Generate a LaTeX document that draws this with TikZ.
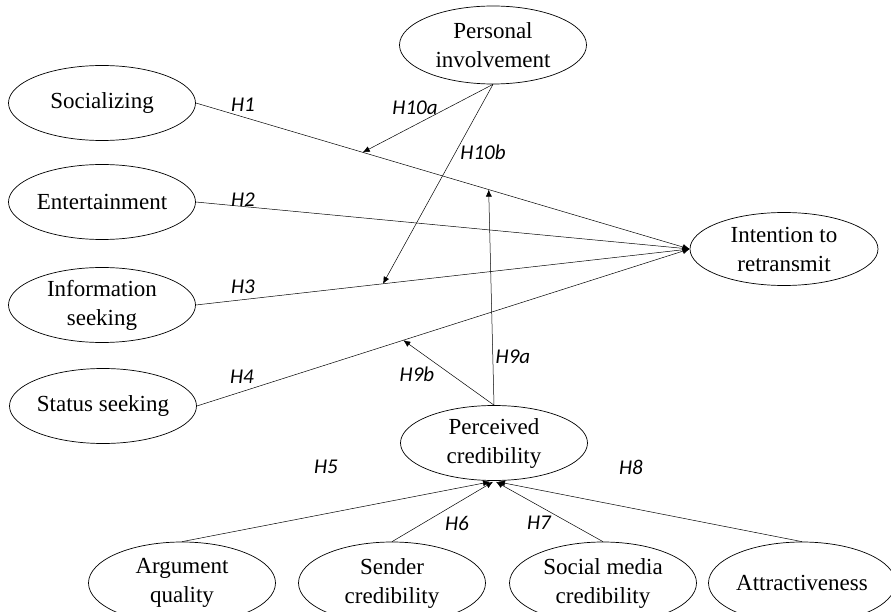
\documentclass[tikz,border=0pt]{standalone}
\usepackage{fontspec}
\setmainfont{Liberation Serif}
\newfontfamily\hypfont{Carlito}
\usetikzlibrary{shapes.geometric,calc,arrows.meta}
\begin{document}
\begin{tikzpicture}[x=1pt,y=-1pt,>={Latex[length=7pt,width=6pt]},
    var/.style={draw,ellipse,line width=0.7pt,minimum width=187pt,minimum height=75pt,inner sep=0pt,align=center,font=\fontsize{23}{29}\selectfont},
    hyp/.style={font=\hypfont\itshape\fontsize{21}{24}\selectfont},
    link/.style={->,line width=0.5pt}]
\useasboundingbox (0,0) rectangle (891,612);
% constructs
\node[var] (soc) at (102,103) {Socializing};
\node[var] (ent) at (102,202) {Entertainment};
\node[var] (inf) at (102,305) {Information\\seeking};
\node[var] (sta) at (103,406) {Status seeking};
\node[var,minimum height=78pt] (inv) at (493,45) {Personal\\involvement};
\node[var,minimum width=188pt,minimum height=73pt] (int) at (784,249) {Intention to\\retransmit};
\node[var] (per) at (494,443) {Perceived\\credibility};
\node[var,minimum height=82pt] (arg) at (182,583) {Argument\\quality};
\node[var,minimum height=82pt] (sen) at (392,583) {Sender\\credibility};
\node[var,minimum height=82pt] (smc) at (603,583) {Social media\\credibility};
\node[var,minimum height=82pt] (att) at (802,583) {Attractiveness};
% direct paths
\draw[link](soc.east)--(int.west);
\draw[link](ent.east)--(int.west);
\draw[link](inf.east)--(int.west);
\draw[link](sta.east)--(int.west);
% moderating paths
\coordinate (m10a) at ($(soc.east)!.338!(int.west)$);
\coordinate (m10b) at ($(inf.east)!.379!(int.west)$);
\coordinate (m9a) at ($(soc.east)!.593!(int.west)$);
\coordinate (m9b) at ($(sta.east)!.419!(int.west)$);
\draw[link](inv.south)--(m10a);
\draw[link](inv.south)--(m10b);
\draw[link](per.north)--(m9a);
\draw[link](per.north)--(m9b);
% antecedents of credibility
\draw[link](arg.north)--($(per.south)+(-4,1)$);
\draw[link](sen.north)--($(per.south)+(-1,1)$);
\draw[link](smc.north)--($(per.south)+(2,1)$);
\draw[link](att.north)--($(per.south)+(4,1)$);
% hypotheses
\node[hyp] (h1) at (243,105){H1};
\node[hyp] (h2) at (243,200){H2};
\node[hyp] (h3) at (243,287){H3};
\node[hyp] (h4) at (242,377){H4};
\node[hyp] (h5) at (326,467){H5};
\node[hyp] (h6) at (457,523){H6};
\node[hyp] (h7) at (539,523){H7};
\node[hyp] (h8) at (631,467){H8};
\node[hyp] (h9a) at (513,357){H9a};
\node[hyp] (h9b) at (417,374){H9b};
\node[hyp] (h10a) at (415,108){H10a};
\node[hyp] (h10b) at (483,152){H10b};
\end{tikzpicture}
\end{document}
